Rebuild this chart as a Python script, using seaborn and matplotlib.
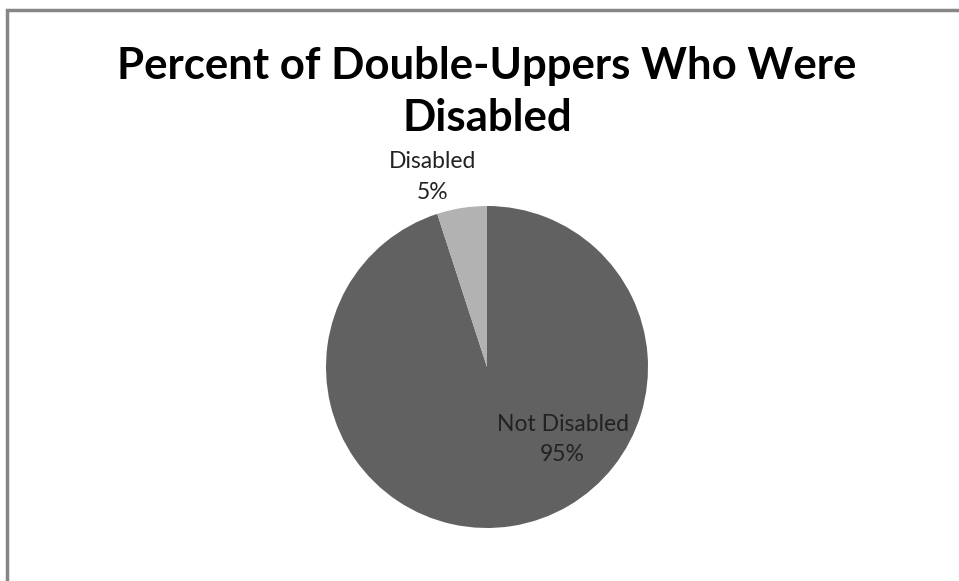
import matplotlib
matplotlib.use("Agg")
import matplotlib.pyplot as plt
from matplotlib.patches import Rectangle
import seaborn as sns

# Share of double-uppers by disability status
categories = ["Not Disabled", "Disabled"]
shares = [95, 5]
pct_labels = ["95%", "5%"]
title_text = "Percent of Double-Uppers Who Were\nDisabled"

sns.set_theme(style="white")
plt.rcParams["font.family"] = ["Lato", "DejaVu Sans"]

slice_colors = ["#616161", "#b2b2b2"]

fig = plt.figure(figsize=(9.59, 5.81), dpi=100)
fig.patch.set_facecolor("white")

W, H = 959, 581
cx, cy, r = 487, 367, 161
ax = fig.add_axes([(cx - r) / W, (H - cy - r) / H, 2 * r / W, 2 * r / H])

wedges, _ = ax.pie(
    shares,
    colors=slice_colors,
    startangle=90,
    counterclock=False,
    radius=1.0,
    wedgeprops=dict(linewidth=0),
)
ax.set_xlim(-1, 1)
ax.set_ylim(-1, 1)
ax.set_axis_off()

# Data labels: category name above its percentage
label_pos = {"Not Disabled": (0.47, -0.45), "Disabled": (-0.34, 1.18)}
for name, pct in zip(categories, pct_labels):
    x, y = label_pos[name]
    ax.text(x, y, f"{name}\n{pct}", ha="center", va="center",
            fontsize=16.5, color="#222222", linespacing=1.55)

fig.text(487 / W, 1 - 92 / H, title_text, ha="center", va="center",
         fontsize=31.5, fontweight="bold", color="black", linespacing=1.37)

# Chart area outline (open on the right and bottom)
fig.patches.append(Rectangle((7 / W, -0.1), 1.2, 1 - 10 / H + 0.1,
                             transform=fig.transFigure, fill=False,
                             edgecolor="#868686", linewidth=2.5))

fig.savefig("out.png", dpi=100, facecolor="white")
